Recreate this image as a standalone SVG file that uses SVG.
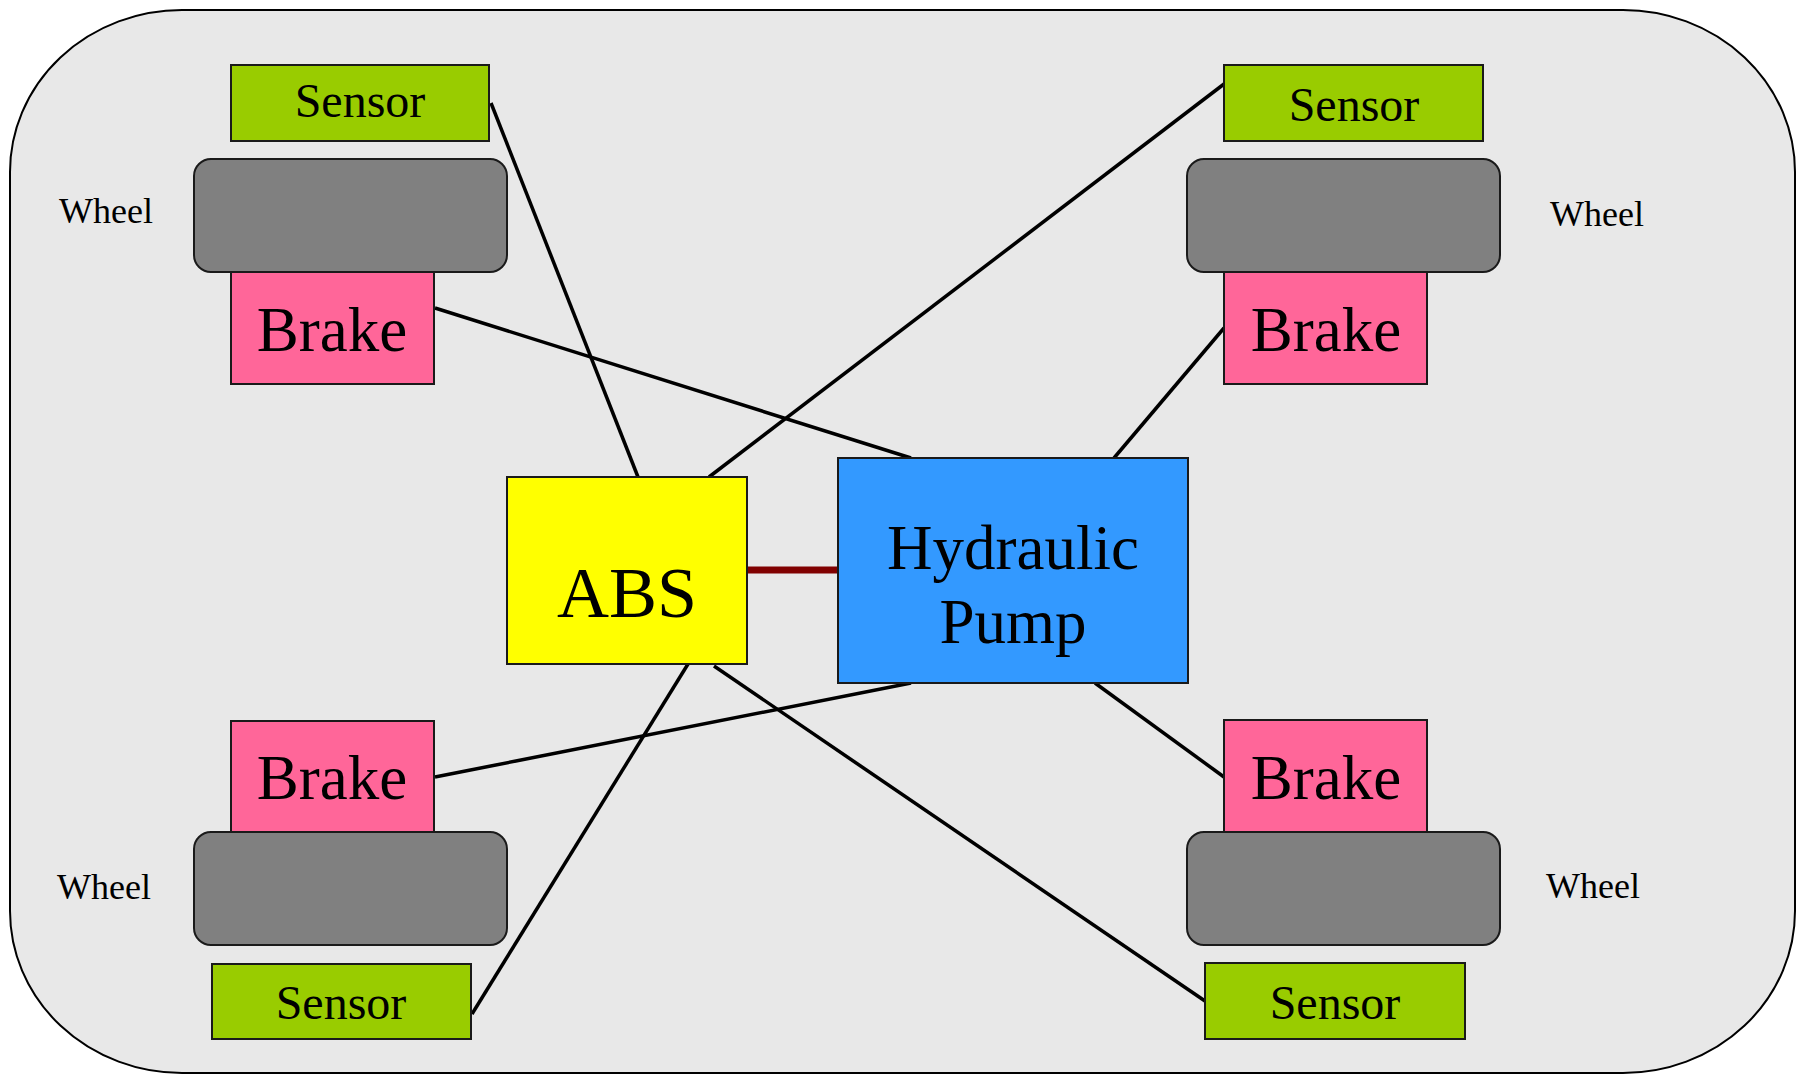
<svg xmlns="http://www.w3.org/2000/svg" width="1802" height="1074" viewBox="0 0 1802 1074">
<style>
.box{stroke:#1a1a1a;stroke-width:2}
.sensor{fill:#99cc00}
.wheel{fill:#808080}
.brake{fill:#ff6699}
.t{font-family:"Liberation Serif","Times New Roman",serif;fill:#000;text-anchor:middle}
.wl{font-family:"Liberation Serif","Times New Roman",serif;fill:#000;font-size:36px}
.ts{font-size:48px}
.tb{font-size:63px}
.conn{stroke:#000;stroke-width:3.5;fill:none}
</style>
<rect width="1802" height="1074" fill="#ffffff"/>
<g id="frame">
<rect x="10" y="10" width="1785" height="1063" rx="172" ry="162" fill="#e8e8e8" stroke="#000" stroke-width="2"/>
</g>
<g id="connectors">
<line class="conn" x1="491" y1="103" x2="638" y2="477"/>
<line class="conn" x1="435" y1="308" x2="911" y2="458"/>
<line class="conn" x1="1224" y1="84" x2="709" y2="477"/>
<line class="conn" x1="1224" y1="328" x2="1114" y2="458"/>
<line class="conn" x1="435" y1="777" x2="911" y2="683"/>
<line class="conn" x1="472" y1="1014" x2="688" y2="664"/>
<line class="conn" x1="1205" y1="1001" x2="714" y2="666"/>
<line class="conn" x1="1224" y1="777" x2="1095" y2="683"/>
<line x1="747" y1="570" x2="838" y2="570" stroke="#800000" stroke-width="7"/>
</g>
<g id="wheel-tl">
<rect class="box brake" x="231" y="272" width="203" height="112"/>
<rect class="box wheel" x="194" y="159" width="313" height="113" rx="17" ry="17"/>
<text class="t tb" x="332" y="351">Brake</text>
<rect class="box sensor" x="231" y="65" width="258" height="76"/>
<text class="t ts" x="360" y="117">Sensor</text>
<text class="wl" x="59" y="223">Wheel</text>
</g>
<g id="wheel-tr">
<rect class="box brake" x="1224" y="272" width="203" height="112"/>
<rect class="box wheel" x="1187" y="159" width="313" height="113" rx="17" ry="17"/>
<text class="t tb" x="1326" y="351">Brake</text>
<rect class="box sensor" x="1224" y="65" width="259" height="76"/>
<text class="t ts" x="1354" y="121">Sensor</text>
<text class="wl" x="1550" y="226">Wheel</text>
</g>
<g id="wheel-bl">
<rect class="box brake" x="231" y="721" width="203" height="112"/>
<rect class="box wheel" x="194" y="832" width="313" height="113" rx="17" ry="17"/>
<text class="t tb" x="332" y="799">Brake</text>
<rect class="box sensor" x="212" y="964" width="259" height="75"/>
<text class="t ts" x="341" y="1019">Sensor</text>
<text class="wl" x="57" y="899">Wheel</text>
</g>
<g id="wheel-br">
<rect class="box brake" x="1224" y="720" width="203" height="112"/>
<rect class="box wheel" x="1187" y="832" width="313" height="113" rx="17" ry="17"/>
<text class="t tb" x="1326" y="799">Brake</text>
<rect class="box sensor" x="1205" y="963" width="260" height="76"/>
<text class="t ts" x="1335" y="1019">Sensor</text>
<text class="wl" x="1546" y="898">Wheel</text>
</g>
<g id="abs">
<rect class="box" x="507" y="477" width="240" height="187" fill="#ffff00"/>
<text class="t" x="627" y="617" font-size="72">ABS</text>
</g>
<g id="pump">
<rect class="box" x="838" y="458" width="350" height="225" fill="#3399ff"/>
<text class="t tb" x="1013" y="569">Hydraulic</text>
<text class="t tb" x="1013" y="643">Pump</text>
</g>
</svg>
